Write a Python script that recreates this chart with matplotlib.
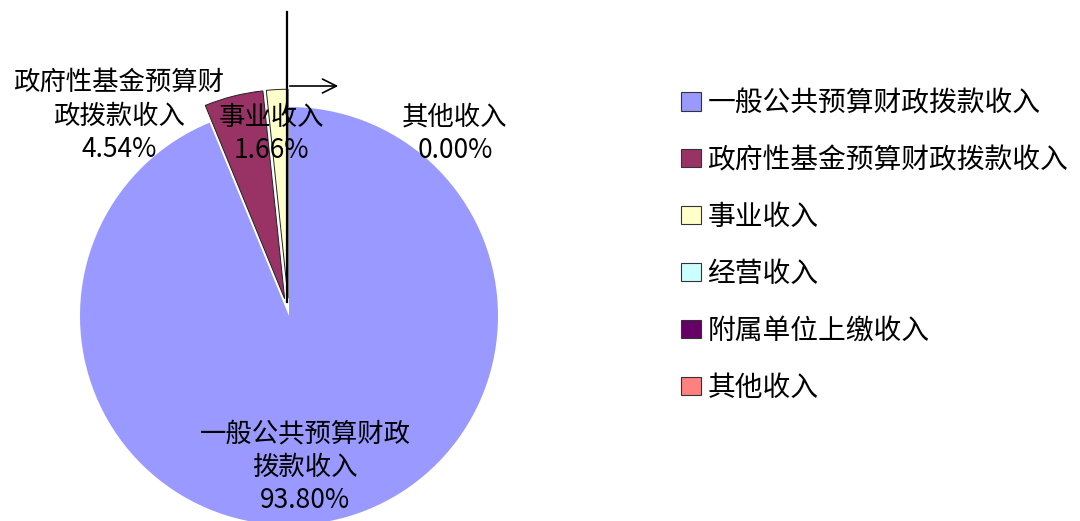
import matplotlib
matplotlib.use('Agg')
import matplotlib.pyplot as plt

plt.rcParams['font.family'] = ['Noto Sans CJK SC', 'DejaVu Sans']

# === DADOS ===
categorias = ['一般公共预算财政拨款收入', '政府性基金预算财政拨款收入', '事业收入',
              '经营收入', '附属单位上缴收入', '其他收入']
valores = [93.80, 4.54, 1.66, 0.0, 0.0, 0.0]
cores = ['#9999FF', '#993366', '#FFFFCC', '#CCFFFF', '#660066', '#FF8080']
explodir = [0, 0.085, 0.085, 0, 0, 0]   # fração do raio

# geometria em pixels (eixo cobre a figura toda)
W, H = 1080, 521
cx, cy, raio = 289, 205, 209

fig = plt.figure(figsize=(W / 100, H / 100), dpi=100)
ax = fig.add_axes([0, 0, 1, 1])

fatias, _ = ax.pie(valores, colors=cores, startangle=90, counterclock=False,
                   explode=[e * raio for e in explodir], center=(cx, cy), radius=raio,
                   wedgeprops=dict(linewidth=0), frame=True)
ax.set_xlim(0, W)
ax.set_ylim(0, H)
ax.set_aspect('equal')
ax.axis('off')
for f in fatias[1:3]:
    f.set_edgecolor('#222222')
    f.set_linewidth(0.7)

# rótulos
fs = 19
ls = 1.3
ax.text(cx + 16, cy - 151, '一般公共预算财政\n拨款收入\n93.80%', ha='center', va='center',
        fontsize=fs, linespacing=ls)
ax.text(cx - 170, cy + 200, '政府性基金预算财\n政拨款收入\n4.54%', ha='center', va='center',
        fontsize=fs, linespacing=ls)
ax.text(cx - 18, cy + 182, '事业收入\n1.66%', ha='center', va='center',
        fontsize=fs, linespacing=ls)
ax.text(cx + 166, cy + 182, '其他收入\n0.00%', ha='center', va='center',
        fontsize=fs, linespacing=ls)

# linhas pretas sobre o gráfico
ax.plot([cx - 2, cx - 2], [cy + 14, H - 12], color='black', lw=1.6)
ax.annotate('', xy=(cx + 52, cy + 230), xytext=(cx - 2, cy + 230),
            arrowprops=dict(arrowstyle='->', color='black', lw=1.2, mutation_scale=25))

# legenda
fig.legend(fatias, categorias, loc='upper left', bbox_to_anchor=(0.607, 0.879),
           frameon=False, fontsize=20, handlelength=0.72, handleheight=0.65,
           handletextpad=0.25, labelspacing=0.97)
for h in fig.legends[0].legend_handles:
    h.set_edgecolor('#333333')
    h.set_linewidth(0.8)

fig.savefig('out.png', dpi=100)
